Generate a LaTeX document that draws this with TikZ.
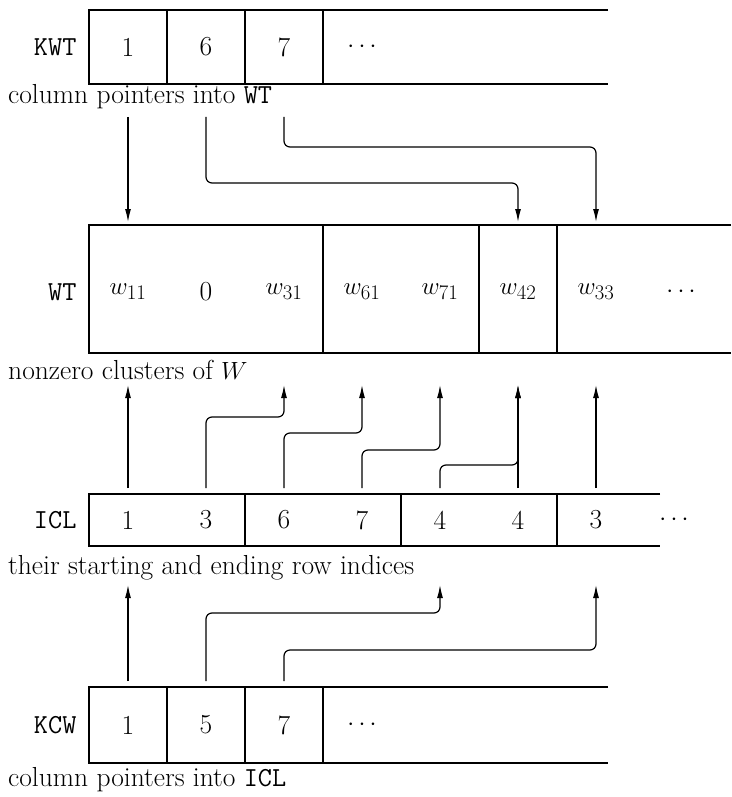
\documentclass[tikz,border=0pt]{standalone}
\usetikzlibrary{arrows.meta,calc}
\begin{document}
\begin{tikzpicture}[x=1pt, y=-1pt,
		every node/.style={font=\fontsize{27.5}{33}\selectfont},
		arr/.style={line width=1.6pt},
		ptr/.style={->, line width=1.2pt, rounded corners=6pt},
		lbl/.style={anchor=east, font=\fontsize{27.5}{33}\selectfont\ttfamily},
		capt/.style={anchor=west, inner sep=0pt},
		>={Latex[length=13pt,width=6pt]}
		]
		\useasboundingbox (0,0) rectangle (731,797);
		
		% KWT
		\draw[arr] (608,10) -- (89,10) -- (89,84) -- (608,84);
		\foreach \x in {167,245,323} \draw[arr] (\x,10) -- (\x,84);
		\node[lbl] (kwt) at (80,47) {KWT};
		\foreach \t [count=\i from 1] in {1,6,7,$\cdots$}
		\node (kwt\i) at (50+78*\i, 47) {\t};
		\node[capt] (kwtcap) at (8,97) {column pointers into \texttt{WT}};
		
		% WT
		\draw[arr] (731,225) -- (89,225) -- (89,353) -- (731,353);
		\foreach \x in {323,479,557} \draw[arr] (\x,225) -- (\x,353);
		\node[lbl] (wt) at (80,292) {WT};
		\foreach \t [count=\i from 1] in {$w_{11}$,0,$w_{31}$,$w_{61}$,$w_{71}$,$w_{42}$,$w_{33}$}
		\node (wt\i) at (50+78*\i, 292) {\t};
		\node (wt8) at (681,292) {$\cdots$};
		\node[capt] (wtcap) at (8,370) {nonzero clusters of $W$};
		
		% ICL
		\draw[arr] (660,494) -- (89,494) -- (89,546) -- (660,546);
		\foreach \x in {245,401,557} \draw[arr] (\x,494) -- (\x,546);
		\node[lbl] (icl) at (80,520) {ICL};
		\foreach \t [count=\i from 1] in {1,3,6,7,4,4,3,$\cdots$}
		\node (icl\i) at (50+78*\i, 520) {\t};
		\node[capt] (iclcap) at (8,568) {their starting and ending row indices};
		
		% KCW
		\draw[arr] (608,687) -- (89,687) -- (89,763) -- (608,763);
		\foreach \x in {167,245,323} \draw[arr] (\x,687) -- (\x,763);
		\node[lbl] (kcw) at (80,725) {KCW};
		\foreach \t [count=\i from 1] in {1,5,7,$\cdots$}
		\node (kcw\i) at (50+78*\i, 725) {\t};
		\node[capt] (kcwcap) at (8,780) {column pointers into \texttt{ICL}};
		
		\coordinate (kwtout) at (0,117);
		\coordinate (wtin) at (0,222);
		\coordinate (wtout) at (0,385);
		\coordinate (iclin) at (0,585);
		\coordinate (iclout) at (0,488);
		\coordinate (kcwout) at (0,681);
		
		% KWT -> WT
		\draw[ptr] (kwt1 |- kwtout) -- (wt1 |- wtin);
		\draw[ptr] (kwt2 |- kwtout) -- (kwt2 |- 0,183) -| (wt6 |- wtin);
		\draw[ptr] (kwt3 |- kwtout) -- (kwt3 |- 0,147) -| (wt7 |- wtin);
		
		% ICL -> WT
		\draw[ptr] (icl1 |- iclout) -- (wt1 |- wtout);
		\draw[ptr] (icl2 |- iclout) -- (icl2 |- 0,417) -| (wt3 |- wtout);
		\draw[ptr] (icl3 |- iclout) -- (icl3 |- 0,433) -| (wt4 |- wtout);
		\draw[ptr] (icl4 |- iclout) -- (icl4 |- 0,450) -| (wt5 |- wtout);
		\draw[ptr] (icl5 |- iclout) -- (icl5 |- 0,465) -| (wt6 |- wtout);
		\draw[ptr] (icl6 |- iclout) -- (wt6 |- wtout);
		\draw[ptr] (icl7 |- iclout) -- (wt7 |- wtout);
		
		% KCW -> ICL
		\draw[ptr] (kcw1 |- kcwout) -- (icl1 |- iclin);
		\draw[ptr] (kcw2 |- kcwout) -- (kcw2 |- 0,613) -| (icl5 |- iclin);
		\draw[ptr] (kcw3 |- kcwout) -- (kcw3 |- 0,650) -| (icl7 |- iclin);
		
	\end{tikzpicture}
\end{document}
